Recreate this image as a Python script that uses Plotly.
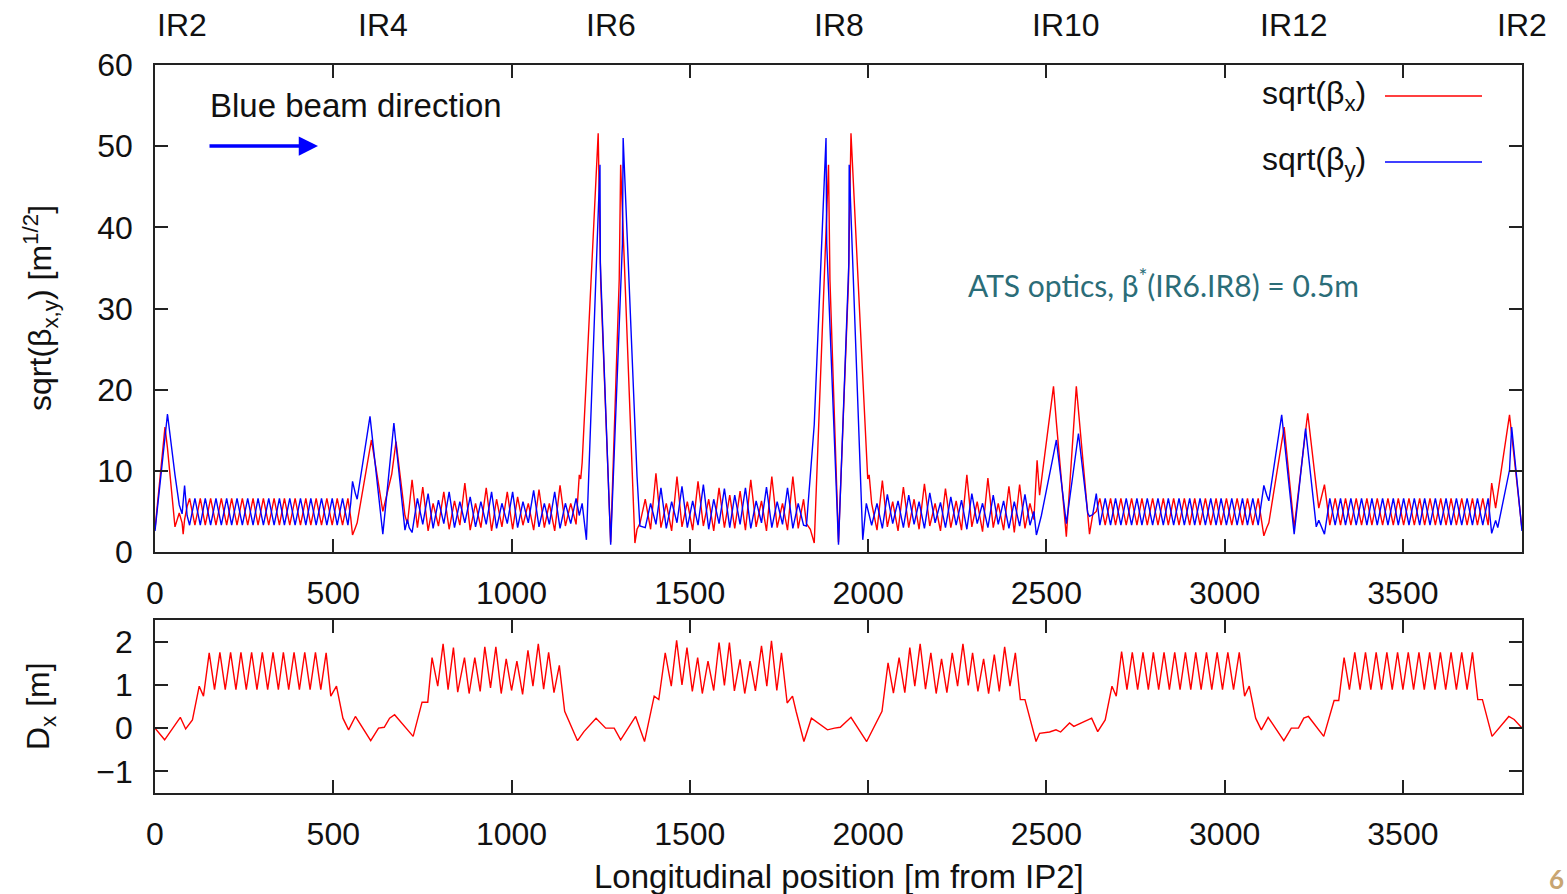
import plotly.graph_objects as go

# ---------------- labels / ticks ----------------
ir_names = ["IR2", "IR4", "IR6", "IR8", "IR10", "IR12", "IR2"]
ir_pos = [0, 639, 1278, 1917, 2556, 3195, 3834]
x_ticks = [0, 500, 1000, 1500, 2000, 2500, 3000, 3500]
beta_ticks = [0, 10, 20, 30, 40, 50, 60]
dx_ticks = [-1, 0, 1, 2]

# ---------------- sqrt(beta) data, per sextant ----------------
# Sextant IR2 -> IR4
s_a = [0, 28, 35, 56, 68, 76, 79, 83, 90,
       97, 112, 127, 141, 156, 171, 186, 201, 215, 230, 245, 260, 275, 289, 304, 319,
       334, 349, 363, 378, 393, 408, 423, 437, 452, 467, 482, 497, 511, 526, 541,
       549, 554, 562, 567, 603, 607, 621]
bx_a = [2.8, 15.4, 12.8, 3.1, 4.8, 3.6, 2.2, 4.0, 5.6,
        6.6, 3.3, 6.6, 3.3, 6.6, 3.3, 6.6, 3.3, 6.6, 3.3, 6.6, 3.3, 6.6, 3.3, 6.6, 3.3,
        6.6, 3.3, 6.6, 3.3, 6.6, 3.3, 6.6, 3.3, 6.6, 3.3, 6.6, 3.3, 6.6, 3.3, 6.6,
        4.2, 2.1, 3.0, 3.6, 12.8, 13.8, 10.0]
by_a = [2.6, 14.8, 17.0, 9.5, 5.8, 4.7, 6.0, 8.2, 4.5,
        3.3, 6.6, 3.3, 6.6, 3.3, 6.6, 3.3, 6.6, 3.3, 6.6, 3.3, 6.6, 3.3, 6.6, 3.3, 6.6,
        3.3, 6.6, 3.3, 6.6, 3.3, 6.6, 3.3, 6.6, 3.3, 6.6, 3.3, 6.6, 3.3, 6.6, 3.3,
        6.0, 8.7, 7.2, 6.5, 16.7, 15.1, 9.4]

# Sextant IR4 -> IR6
s_b = [639, 664, 670, 676, 701, 708, 713,
       721, 736, 751, 766, 780, 795, 810, 825, 840, 855, 869, 884, 899, 914, 929, 944,
       958, 973, 988, 1003, 1017, 1032, 1047, 1062, 1077, 1092, 1106, 1121, 1136, 1151,
       1166, 1181,
       1190, 1194, 1198, 1210, 1243, 1248, 1249, 1250]
bx_b = [5.0, 9.6, 11.6, 13.6, 4.5, 3.5, 5.5,
        8.9, 3.0, 8.0, 2.6, 6.0, 3.2, 7.4, 2.8, 6.3, 3.3, 8.5, 2.7, 6.0, 3.0, 7.9, 2.6,
        6.5, 3.1, 7.4, 2.8, 6.8, 3.3, 6.0, 2.7, 7.7, 3.0, 6.0, 2.6, 8.2, 3.2, 6.0, 3.4,
        9.5, 9.0, 11.0, 21.6, 51.6, 38.5, 35.9, 33.3]
by_b = [2.2, 13.2, 15.9, 13.3, 2.7, 4.0, 3.0,
        2.4, 6.6, 3.4, 7.2, 2.9, 6.4, 3.5, 7.4, 3.0, 6.2, 3.6, 6.8, 3.1, 6.2, 3.4, 7.4,
        2.9, 6.0, 3.5, 7.4, 3.0, 6.2, 3.6, 7.6, 3.1, 6.0, 3.4, 7.4, 2.9, 6.0, 3.5, 6.6,
        4.5, 5.2, 6.0, 1.5, 41.6, 47.7, 35.6, 34.4]

# Sextant IR6 -> IR8
s_c = [1278, 1302, 1306, 1311, 1313, 1346, 1352, 1360,
       1375, 1390, 1405, 1419, 1434, 1449, 1464, 1478, 1493, 1508, 1523, 1538, 1553,
       1567, 1582, 1597, 1612, 1626, 1641, 1656, 1671, 1686, 1701, 1715, 1730, 1745,
       1760, 1774, 1789, 1804, 1819,
       1827, 1838, 1849, 1882, 1884, 1889, 1893]
bx_c = [1.2, 33.6, 47.7, 41.9, 39.5, 1.1, 2.8, 3.5,
        6.5, 2.8, 9.7, 3.0, 6.0, 2.6, 9.3, 3.1, 6.2, 2.7, 8.7, 3.2, 6.5, 2.6, 7.9, 3.0,
        7.0, 2.9, 7.5, 2.7, 8.9, 3.1, 6.3, 2.6, 9.3, 3.0, 6.0, 2.7, 9.3, 2.9, 6.5,
        3.5, 2.8, 1.1, 39.5, 41.9, 47.7, 33.6]
by_c = [0.9, 27.9, 32.4, 38.0, 51.0, 15.7, 9.3, 3.2,
        3.0, 6.0, 3.4, 7.9, 2.9, 6.2, 3.6, 8.1, 3.0, 6.3, 3.3, 8.3, 2.8, 6.5, 3.5, 7.8,
        3.0, 7.0, 3.4, 7.9, 2.9, 6.3, 3.6, 8.0, 3.0, 6.2, 3.4, 7.9, 2.9, 6.0, 3.3,
        3.2, 9.3, 15.7, 51.0, 38.0, 32.4, 27.9]

# Sextant IR8 -> IR10
s_d = [1917, 1945, 1946, 1947, 1952, 1985, 1995, 1999, 2003,
       2010, 2025, 2040, 2054, 2069, 2084, 2099, 2114, 2129, 2143, 2158, 2173, 2188,
       2203, 2217, 2232, 2247, 2262, 2277, 2291, 2306, 2321, 2336, 2351, 2365, 2380,
       2395, 2410, 2425, 2440, 2454,
       2465, 2472, 2474, 2481, 2486, 2520, 2528]
bx_d = [1.2, 33.3, 35.9, 38.5, 51.6, 21.6, 12.5, 9.0, 9.5,
        6.0, 2.7, 8.8, 3.1, 6.2, 2.6, 8.0, 3.0, 6.5, 2.8, 8.4, 3.2, 6.0, 2.6, 7.8, 3.0,
        6.3, 2.7, 9.5, 3.1, 6.2, 2.5, 9.1, 3.0, 6.0, 2.7, 8.1, 2.4, 8.3, 2.9, 6.0,
        4.0, 9.8, 11.3, 7.0, 8.7, 20.4, 16.0]
by_d = [0.9, 34.4, 35.6, 47.7, 41.6, 1.5, 6.0, 5.2, 4.5,
        3.3, 6.0, 2.9, 7.1, 3.5, 6.3, 3.0, 7.0, 3.4, 6.2, 2.9, 7.3, 3.6, 6.1, 3.0, 6.8,
        3.3, 6.4, 2.8, 7.2, 3.5, 6.0, 3.0, 7.0, 3.4, 6.3, 2.9, 6.2, 3.2, 7.1, 3.3,
        5.0, 2.1, 2.4, 3.6, 4.5, 12.0, 13.8]

# Sextant IR10 -> IR12
s_e = [2556, 2584, 2590, 2616, 2621, 2630, 2640,
       2650, 2665, 2680, 2694, 2709, 2724, 2739, 2754, 2768, 2783, 2798, 2813, 2828,
       2842, 2857, 2872, 2887, 2902, 2916, 2931, 2946, 2961, 2976, 2990, 3005, 3020,
       3035, 3050, 3064, 3079, 3094,
       3102, 3110, 3118, 3124, 3160, 3167, 3180]
bx_e = [1.9, 20.4, 17.4, 4.6, 2.2, 4.6, 5.0,
        6.6, 3.3, 6.6, 3.3, 6.6, 3.3, 6.6, 3.3, 6.6, 3.3, 6.6, 3.3, 6.6, 3.3, 6.6, 3.3,
        6.6, 3.3, 6.6, 3.3, 6.6, 3.3, 6.6, 3.3, 6.6, 3.3, 6.6, 3.3, 6.6, 3.3, 6.6,
        4.2, 2.0, 3.0, 3.6, 13.5, 15.4, 9.6]
by_e = [3.5, 12.6, 14.6, 4.8, 4.4, 4.6, 7.2,
        3.3, 6.6, 3.3, 6.6, 3.3, 6.6, 3.3, 6.6, 3.3, 6.6, 3.3, 6.6, 3.3, 6.6, 3.3, 6.6,
        3.3, 6.6, 3.3, 6.6, 3.3, 6.6, 3.3, 6.6, 3.3, 6.6, 3.3, 6.6, 3.3, 6.6, 3.3,
        6.0, 8.2, 7.0, 6.3, 16.9, 14.0, 8.5]

# Sextant IR12 -> IR2
s_f = [3195, 3227, 3233, 3257, 3264, 3270, 3280,
       3295, 3310, 3325, 3339, 3354, 3369, 3384, 3399, 3413, 3428, 3443, 3458, 3473,
       3487, 3502, 3517, 3532, 3547, 3561, 3576, 3591, 3606, 3621, 3635, 3650, 3665,
       3680, 3695, 3709, 3724, 3739,
       3749, 3760, 3766, 3799, 3805, 3834]
bx_f = [3.0, 14.9, 17.1, 8.0, 5.4, 6.5, 8.3,
        3.3, 6.6, 3.3, 6.6, 3.3, 6.6, 3.3, 6.6, 3.3, 6.6, 3.3, 6.6, 3.3, 6.6, 3.3, 6.6,
        3.3, 6.6, 3.3, 6.6, 3.3, 6.6, 3.3, 6.6, 3.3, 6.6, 3.3, 6.6, 3.3, 6.6, 3.3,
        8.5, 5.4, 7.2, 16.9, 14.5, 2.8]
by_f = [2.2, 15.2, 12.8, 3.1, 3.9, 3.3, 2.2,
        6.6, 3.3, 6.6, 3.3, 6.6, 3.3, 6.6, 3.3, 6.6, 3.3, 6.6, 3.3, 6.6, 3.3, 6.6, 3.3,
        6.6, 3.3, 6.6, 3.3, 6.6, 3.3, 6.6, 3.3, 6.6, 3.3, 6.6, 3.3, 6.6, 3.3, 6.6,
        2.3, 3.9, 3.0, 10.1, 15.4, 2.6]

# ---------------- horizontal dispersion Dx, per sextant ----------------
ds_a = [0, 27, 71, 86, 105, 124, 136,
        152, 167, 182, 197, 212, 227, 241, 256, 271, 286, 301, 316, 331, 346, 360, 375,
        390, 405, 420, 435, 450, 465, 480,
        493, 509, 527, 543, 562, 605, 627]
dx_a = [0.0, -0.27, 0.25, -0.02, 0.19, 0.97, 0.74,
        1.74, 0.89, 1.75, 0.89, 1.75, 0.89, 1.75, 0.89, 1.75, 0.89, 1.75, 0.89, 1.75,
        0.89, 1.75, 0.89, 1.75, 0.89, 1.75, 0.89, 1.75, 0.89, 1.74,
        0.74, 0.97, 0.23, -0.04, 0.27, -0.29, 0.0]
ds_b = [643, 658, 672, 724, 749, 765,
        777, 793, 808, 822, 837, 849, 868, 881, 897, 912, 925, 941, 956, 971, 985, 1000,
        1015, 1031, 1046, 1060, 1075, 1090, 1104, 1119, 1134,
        1149, 1185, 1203, 1237, 1264]
dx_b = [0.02, 0.23, 0.31, -0.19, 0.6, 0.6,
        1.63, 0.97, 1.95, 0.89, 1.86, 0.83, 1.63, 0.8, 1.63, 0.85, 1.88, 0.93, 1.88,
        0.8, 1.6, 0.87, 1.55, 0.78, 1.8, 0.97, 1.95, 0.9, 1.75, 0.82, 1.45,
        0.39, -0.29, -0.08, 0.23, 0.0]
ds_c = [1288, 1306, 1348, 1373, 1400, 1413,
        1431, 1448, 1463, 1478, 1492, 1507, 1522, 1535, 1551, 1567, 1582, 1597, 1611,
        1625, 1641, 1654, 1669, 1684, 1701, 1716, 1729, 1744, 1757,
        1773, 1788, 1798, 1820, 1841, 1886, 1906]
dx_c = [0.0, -0.27, 0.27, -0.31, 0.74, 0.66,
        1.74, 0.97, 2.03, 1.0, 1.86, 0.85, 1.63, 0.8, 1.55, 0.87, 1.98, 0.99, 1.98,
        0.86, 1.59, 0.8, 1.55, 0.86, 1.9, 0.97, 2.02, 0.87, 1.74,
        0.58, 0.74, 0.39, -0.31, 0.23, -0.04, 0.0]
ds_d = [1922, 1952, 1996, 2039,
        2056, 2071, 2087, 2103, 2117, 2131, 2146, 2161, 2176, 2191, 2206, 2221, 2236,
        2251, 2266, 2281, 2293, 2308, 2324, 2338, 2354, 2368, 2383, 2398, 2413,
        2427, 2440, 2471, 2481, 2509, 2527, 2540]
dx_d = [0.02, 0.25, -0.31, 0.39,
        1.51, 0.81, 1.63, 0.82, 1.86, 0.97, 1.95, 0.9, 1.74, 0.8, 1.6, 0.82, 1.74,
        0.97, 1.95, 0.99, 1.74, 0.85, 1.6, 0.8, 1.7, 0.85, 1.88, 0.97, 1.74,
        0.66, 0.66, -0.31, -0.12, -0.09, -0.04, -0.09]
ds_e = [2565, 2577, 2600, 2627, 2644, 2665, 2684, 2696,
        2711, 2726, 2741, 2756, 2771, 2786, 2800, 2815, 2830, 2845, 2860, 2875, 2890,
        2905, 2919, 2934, 2949, 2964, 2979, 2994, 3009, 3025, 3041,
        3056, 3069, 3087, 3103, 3122, 3166, 3187]
dx_e = [0.12, 0.04, 0.12, 0.23, -0.08, 0.19, 0.97, 0.74,
        1.77, 0.89, 1.75, 0.89, 1.75, 0.89, 1.75, 0.89, 1.75, 0.89, 1.75, 0.89, 1.75,
        0.89, 1.75, 0.89, 1.75, 0.89, 1.75, 0.89, 1.75, 0.89, 1.75,
        0.74, 0.97, 0.23, -0.04, 0.25, -0.29, 0.0]
ds_f = [3207, 3222, 3235, 3278, 3307, 3320,
        3335, 3350, 3365, 3380, 3395, 3410, 3425, 3440, 3455, 3470, 3485, 3500, 3515,
        3530, 3545, 3560, 3575, 3590, 3605, 3620, 3635, 3650, 3665, 3680, 3695,
        3710, 3723, 3750, 3797, 3812, 3834]
dx_f = [0.0, 0.23, 0.27, -0.19, 0.64, 0.64,
        1.63, 0.89, 1.75, 0.89, 1.75, 0.89, 1.75, 0.89, 1.75, 0.89, 1.75, 0.89, 1.75,
        0.89, 1.75, 0.89, 1.75, 0.89, 1.75, 0.89, 1.75, 0.89, 1.75, 0.89, 1.75,
        0.66, 0.66, -0.19, 0.27, 0.2, 0.0]

# ---------------- assemble ----------------
s_all, bx_all, by_all = [], [], []
for s, bx, by in [(s_a, bx_a, by_a), (s_b, bx_b, by_b), (s_c, bx_c, by_c),
                  (s_d, bx_d, by_d), (s_e, bx_e, by_e), (s_f, bx_f, by_f)]:
    assert len(s) == len(bx) == len(by), (len(s), len(bx), len(by), s[0])
    s_all += s
    bx_all += bx
    by_all += by

ds_all, dx_all = [], []
for s, d in [(ds_a, dx_a), (ds_b, dx_b), (ds_c, dx_c), (ds_d, dx_d), (ds_e, dx_e), (ds_f, dx_f)]:
    assert len(s) == len(d), (len(s), len(d), s[0])
    ds_all += s
    dx_all += d

RED = "#ff0000"
BLUE = "#0000ff"
FONT = "Liberation Sans, Arial, sans-serif"
AXC = "#222222"
TXT = "#111111"

fig = go.Figure()
fig.add_trace(go.Scatter(x=s_all, y=bx_all, mode="lines", name="sqrt(βx)",
                         line=dict(color=RED, width=1.4), xaxis="x", yaxis="y",
                         showlegend=False))
fig.add_trace(go.Scatter(x=s_all, y=by_all, mode="lines", name="sqrt(βy)",
                         line=dict(color=BLUE, width=1.4), xaxis="x", yaxis="y",
                         showlegend=False))
fig.add_trace(go.Scatter(x=ds_all, y=dx_all, mode="lines", name="Dx",
                         line=dict(color=RED, width=1.4), xaxis="x2", yaxis="y2",
                         showlegend=False))

axis_common = dict(showgrid=False, zeroline=False, showline=True, linecolor=AXC,
                   linewidth=1.6, mirror="ticks", ticks="inside", ticklen=13,
                   tickwidth=1.5, tickcolor=AXC,
                   tickfont=dict(family=FONT, size=32, color=TXT))

top_dom = [(793 - 552) / 728, 1.0]
bot_dom = [0.0, (793 - 620) / 728]

fig.update_layout(
    width=1567, height=894,
    margin=dict(l=155, r=45, t=65, b=101),
    paper_bgcolor="white", plot_bgcolor="white",
    xaxis=dict(domain=[0, 1], range=[0, 3834], anchor="y", tickvals=x_ticks,
               ticklabelstandoff=12, **axis_common),
    yaxis=dict(domain=top_dom, range=[0, 60], anchor="x", tickvals=beta_ticks,
               ticklabelstandoff=14, **axis_common),
    xaxis2=dict(domain=[0, 1], range=[0, 3834], anchor="y2", tickvals=x_ticks,
                ticklabelstandoff=12, **axis_common),
    yaxis2=dict(domain=bot_dom, range=[-1.5, 2.5], anchor="x2", tickvals=dx_ticks,
                ticklabelstandoff=14, **axis_common),
)

ann = []
# IR labels on top
for i, (name, pos) in enumerate(zip(ir_names, ir_pos)):
    ann.append(dict(x=pos, y=(793 - 25) / 728, xref="x", yref="paper", text=name,
                    showarrow=False, xanchor="left" if i == 0 else "center",
                    yanchor="middle", font=dict(family=FONT, size=32, color=TXT)))
# axis titles
ann.append(dict(x=-115 / 1367, y=(793 - 308) / 728, xref="paper", yref="paper",
                text="sqrt(β<sub>x,y</sub>) [m<sup>1/2</sup>]", textangle=-90,
                showarrow=False, xanchor="center", yanchor="middle",
                font=dict(family=FONT, size=32, color=TXT)))
ann.append(dict(x=-115 / 1367, y=(793 - 706) / 728, xref="paper", yref="paper",
                text="D<sub>x</sub> [m]", textangle=-90,
                showarrow=False, xanchor="center", yanchor="middle",
                font=dict(family=FONT, size=32, color=TXT)))
ann.append(dict(x=0.5, y=(793 - 876) / 728, xref="paper", yref="paper",
                text="Longitudinal position [m from IP2]", showarrow=False,
                xanchor="center", yanchor="middle",
                font=dict(family=FONT, size=33, color=TXT)))
# legend (text left of sample line, gnuplot style)
ann.append(dict(x=(1368 - 155) / 1367, y=(793 - 96) / 728, xref="paper", yref="paper",
                text="sqrt(β<sub>x</sub>)", showarrow=False, xanchor="right",
                yanchor="middle", font=dict(family=FONT, size=32, color=TXT)))
ann.append(dict(x=(1368 - 155) / 1367, y=(793 - 162) / 728, xref="paper", yref="paper",
                text="sqrt(β<sub>y</sub>)", showarrow=False, xanchor="right",
                yanchor="middle", font=dict(family=FONT, size=32, color=TXT)))
# beam direction
ann.append(dict(x=(208 - 155) / 1367, y=(793 - 105) / 728, xref="paper", yref="paper",
                text="Blue beam direction", showarrow=False, xanchor="left",
                yanchor="middle", font=dict(family=FONT, size=33, color=TXT)))
ann.append(dict(x=(318 - 155) / 1367, y=(793 - 146) / 728, xref="paper", yref="paper",
                text="", showarrow=True, ax=-110, ay=0, arrowhead=2, arrowsize=1.1,
                arrowwidth=3.5, arrowcolor=BLUE))
# optics note
ann.append(dict(x=(966 - 155) / 1367, y=(793 - 283) / 728, xref="paper", yref="paper",
                text="ATS optics, β<sup>*</sup>(IR6.IR8) = 0.5m", showarrow=False,
                xanchor="left", yanchor="middle",
                font=dict(family="Lato, Noto Sans, sans-serif", size=30, color="#2b6d78")))
# page number
ann.append(dict(x=(1556 - 155) / 1367, y=(793 - 879) / 728, xref="paper", yref="paper",
                text="<b>6</b>", showarrow=False, xanchor="center", yanchor="middle",
                font=dict(family="Lato, sans-serif", size=26, color="#c8a572")))

fig.update_layout(annotations=ann)

fig.update_layout(shapes=[
    dict(type="line", xref="paper", yref="paper",
         x0=(1385 - 155) / 1367, x1=(1482 - 155) / 1367,
         y0=(793 - 96) / 728, y1=(793 - 96) / 728, line=dict(color=RED, width=1.4)),
    dict(type="line", xref="paper", yref="paper",
         x0=(1385 - 155) / 1367, x1=(1482 - 155) / 1367,
         y0=(793 - 162) / 728, y1=(793 - 162) / 728, line=dict(color=BLUE, width=1.4)),
])

fig.write_html("out.html",
               config={"displayModeBar": False},
               post_script="document.body.style.margin='0';document.body.style.padding='0';"
                           "document.body.style.overflow='hidden';")
